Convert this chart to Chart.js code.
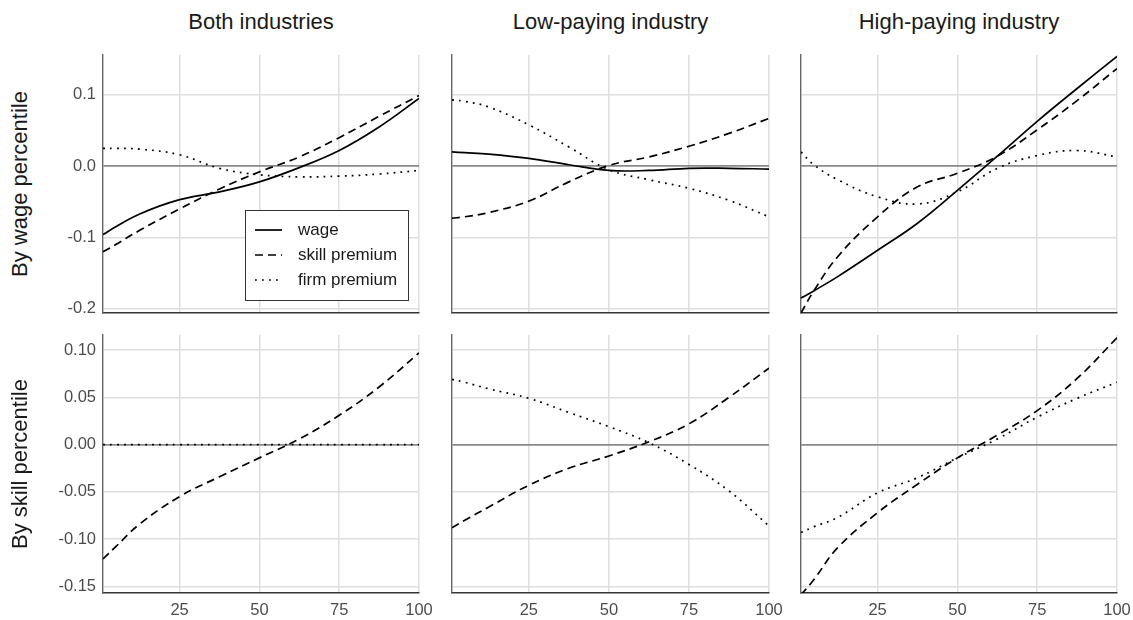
<!DOCTYPE html>
<html>
<head>
<meta charset="utf-8">
<title>Wage, skill premium and firm premium by percentile</title>
<script src="https://cdn.jsdelivr.net/npm/chart.js@4.4.1/dist/chart.umd.min.js"></script>
<style>
  html, body { margin: 0; padding: 0; background: #fff; overflow: hidden; }
  #figure { position: relative; width: 1133px; height: 620px; font-family: "Liberation Sans", Arial, sans-serif; }
  #figure canvas { position: absolute; }
  .strip { position: absolute; width: 300px; text-align: center; font-size: 22px; line-height: 22px; color: #1a1a1a; white-space: nowrap; }
  .rowlab { position: absolute; width: 300px; height: 22px; text-align: center; font-size: 22px; line-height: 22px; color: #1a1a1a; white-space: nowrap; transform: rotate(-90deg); }
</style>
</head>
<body>
<div id="figure"></div>
<script>
// percentiles the curves were read at
const percentiles = [1, 5, 12.5, 25, 37.5, 50, 62.5, 75, 87.5, 100];
const industries = ['Both industries', 'Low-paying industry', 'High-paying industry'];
const rowLabels = ['By wage percentile', 'By skill percentile'];
const seriesNames = ['wage', 'skill premium', 'firm premium'];

const xTicks = [25, 50, 75, 100];
const yTicksWage = [-0.2, -0.1, 0, 0.1];
const yTicksSkill = [-0.15, -0.10, -0.05, 0, 0.05, 0.10];

// top row: by wage percentile
const byWageBothWage  = [-0.096, -0.085, -0.067, -0.047, -0.036, -0.022, -0.002, 0.022, 0.055, 0.095];
const byWageBothSkill = [-0.120, -0.110, -0.090, -0.060, -0.032, -0.008, 0.013, 0.040, 0.070, 0.099];
const byWageBothFirm  = [0.025, 0.025, 0.024, 0.016, -0.003, -0.012, -0.015, -0.014, -0.011, -0.006];

const byWageLowWage  = [0.020, 0.019, 0.017, 0.011, 0.002, -0.006, -0.006, -0.003, -0.003, -0.004];
const byWageLowSkill = [-0.073, -0.071, -0.065, -0.049, -0.022, 0.001, 0.013, 0.028, 0.046, 0.067];
const byWageLowFirm  = [0.093, 0.091, 0.083, 0.058, 0.027, -0.005, -0.019, -0.031, -0.048, -0.071];

const byWageHighWage  = [-0.185, -0.175, -0.155, -0.118, -0.080, -0.034, 0.014, 0.063, 0.109, 0.154];
const byWageHighSkill = [-0.206, -0.175, -0.127, -0.071, -0.029, -0.010, 0.014, 0.051, 0.092, 0.137];
const byWageHighFirm  = [0.020, 0.002, -0.019, -0.043, -0.053, -0.036, -0.003, 0.015, 0.022, 0.013];

// bottom row: by skill percentile
const bySkillBothSkill = [-0.121, -0.108, -0.084, -0.055, -0.034, -0.014, 0.006, 0.031, 0.061, 0.097];
const bySkillBothFirm  = [0, 0, 0, 0, 0, 0, 0, 0, 0, 0];

const bySkillLowSkill = [-0.088, -0.080, -0.066, -0.043, -0.025, -0.012, 0.003, 0.022, 0.050, 0.081];
const bySkillLowFirm  = [0.069, 0.066, 0.059, 0.049, 0.034, 0.019, 0.002, -0.021, -0.049, -0.086];

const bySkillHighSkill = [-0.159, -0.143, -0.109, -0.072, -0.042, -0.014, 0.010, 0.036, 0.070, 0.113];
const bySkillHighFirm  = [-0.093, -0.087, -0.077, -0.051, -0.035, -0.014, 0.006, 0.029, 0.049, 0.066];

const panelSeries = [
  [[byWageBothWage, byWageBothSkill, byWageBothFirm],
   [byWageLowWage, byWageLowSkill, byWageLowFirm],
   [byWageHighWage, byWageHighSkill, byWageHighFirm]],
  [[null, bySkillBothSkill, bySkillBothFirm],
   [null, bySkillLowSkill, bySkillLowFirm],
   [null, bySkillHighSkill, bySkillHighFirm]]
];

// layout of the facet grid (plot areas in page pixels)
const colBox = [{ left: 103, right: 419 }, { left: 452, right: 769 }, { left: 801, right: 1117 }];
const rowBox = [{ top: 55, bottom: 313 }, { top: 335, bottom: 593 }];
const yRanges = [{ min: -0.206, max: 0.156 }, { min: -0.157, max: 0.116 }];
const yTickSets = [yTicksWage, yTicksSkill];
const yDecimals = [1, 2];
const dashes = [[], [8, 5], [1.8, 5.2]];

const FONT = '"Liberation Sans", Arial, sans-serif';
Chart.defaults.font.family = FONT;

const figure = document.getElementById('figure');

// legend drawn inside the first panel
const legendBox = {
  id: 'legendBox',
  afterDatasetsDraw(chart) {
    const ctx = chart.ctx;
    const area = chart.chartArea;
    const left = area.left + 142, top = area.top + 155, w = 163, h = 90;
    ctx.save();
    ctx.fillStyle = '#fff';
    ctx.fillRect(left, top, w, h);
    ctx.strokeStyle = '#333';
    ctx.lineWidth = 1;
    ctx.strokeRect(left + 0.5, top + 0.5, w, h);
    chart.data.datasets.forEach(function(ds, i) {
      const y = top + 20 + i * 25;
      ctx.setLineDash(ds.borderDash || []);
      ctx.strokeStyle = ds.borderColor;
      ctx.lineWidth = ds.borderWidth;
      ctx.beginPath();
      ctx.moveTo(left + 10, y);
      ctx.lineTo(left + 37, y);
      ctx.stroke();
      ctx.setLineDash([]);
      ctx.fillStyle = '#1a1a1a';
      ctx.font = '17px ' + FONT;
      ctx.textBaseline = 'middle';
      ctx.fillText(ds.label, left + 53, y);
    });
    ctx.restore();
  }
};

function makePanel(row, col) {
  const yW = col === 0 ? 60 : 6;
  const padT = 20, padR = 26;
  const xH = row === 1 ? 27 : 20;
  const c = colBox[col], r = rowBox[row];

  const canvas = document.createElement('canvas');
  canvas.width = yW + (c.right - c.left) + padR;
  canvas.height = padT + (r.bottom - r.top) + xH;
  canvas.style.left = (c.left - yW) + 'px';
  canvas.style.top = (r.top - padT) + 'px';
  figure.appendChild(canvas);

  const datasets = [];
  panelSeries[row][col].forEach(function(values, i) {
    if (!values) return;
    datasets.push({
      label: seriesNames[i],
      data: percentiles.map((x, k) => ({ x: x, y: values[k] })),
      borderColor: '#000',
      borderWidth: 1.7,
      borderDash: dashes[i],
      pointRadius: 0,
      fill: false,
      tension: 0.4
    });
  });

  const yTicks = yTickSets[row];
  new Chart(canvas.getContext('2d'), {
    type: 'line',
    data: { datasets: datasets },
    options: {
      responsive: false,
      animation: false,
      devicePixelRatio: 1,
      layout: { padding: { top: padT, right: padR, bottom: 0, left: 0 } },
      plugins: { legend: { display: false }, tooltip: { enabled: false } },
      scales: {
        x: {
          type: 'linear',
          min: 1,
          max: 100,
          afterBuildTicks: (s) => { s.ticks = xTicks.map(v => ({ value: v })); },
          afterFit: (s) => { s.height = xH; },
          grid: { color: '#dedede', lineWidth: 1.5, drawTicks: false },
          border: { display: true, color: '#333', width: 1.4 },
          ticks: {
            display: row === 1,
            autoSkip: false,
            maxRotation: 0,
            padding: 8,
            color: '#4d4d4d',
            font: { size: 16.5 }
          }
        },
        y: {
          type: 'linear',
          min: yRanges[row].min,
          max: yRanges[row].max,
          afterBuildTicks: (s) => { s.ticks = yTicks.map(v => ({ value: v })); },
          afterFit: (s) => { s.width = yW; },
          grid: {
            color: (ctx) => (ctx.tick && ctx.tick.value === 0 ? '#8a8a8a' : '#dedede'),
            lineWidth: (ctx) => (ctx.tick && ctx.tick.value === 0 ? 1.8 : 1.5),
            drawTicks: false
          },
          border: { display: true, color: '#666', width: 1.4 },
          ticks: {
            display: col === 0,
            padding: 7,
            color: '#4d4d4d',
            font: { size: 16.5 },
            callback: (v) => Number(v).toFixed(yDecimals[row])
          }
        }
      }
    },
    plugins: (row === 0 && col === 0) ? [legendBox] : []
  });
}

for (let row = 0; row < 2; row++) {
  for (let col = 0; col < 3; col++) makePanel(row, col);
}

// facet strip titles
industries.forEach(function(name, col) {
  const d = document.createElement('div');
  d.className = 'strip';
  d.textContent = name;
  d.style.left = ((colBox[col].left + colBox[col].right) / 2 - 150) + 'px';
  d.style.top = '11px';
  figure.appendChild(d);
});

// row labels
rowLabels.forEach(function(name, row) {
  const d = document.createElement('div');
  d.className = 'rowlab';
  d.textContent = name;
  d.style.left = (20.4 - 150) + 'px';
  d.style.top = ((rowBox[row].top + rowBox[row].bottom) / 2 - 11) + 'px';
  figure.appendChild(d);
});
</script>
</body>
</html>
